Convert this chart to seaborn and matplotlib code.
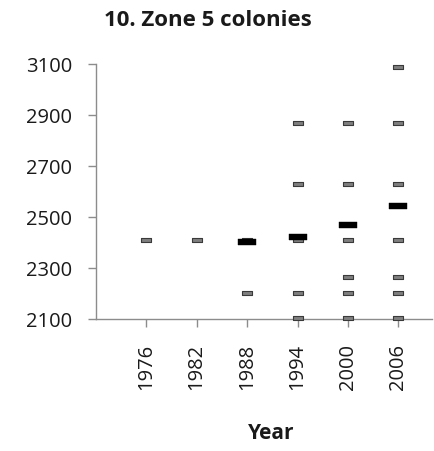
import matplotlib
matplotlib.use("Agg")
import matplotlib.pyplot as plt
import numpy as np
import pandas as pd
import seaborn as sns

# Colony sizes recorded per survey year
years = [1976, 1982, 1988, 1988,
         1994, 1994, 1994, 1994, 1994,
         2000, 2000, 2000, 2000, 2000, 2000,
         2006, 2006, 2006, 2006, 2006, 2006, 2006]
sizes = [2410, 2410, 2410, 2205,
         2870, 2630, 2410, 2205, 2105,
         2870, 2630, 2410, 2265, 2205, 2105,
         3090, 2870, 2630, 2410, 2265, 2205, 2105]

# Average per year (black bars)
avg_years = [1988, 1994, 2000, 2006]
avg_sizes = [2403, 2422, 2470, 2545]

year_ticks = [1976, 1982, 1988, 1994, 2000, 2006]
size_ticks = [2100, 2300, 2500, 2700, 2900, 3100]

colonies = pd.DataFrame({"Year": years, "Size": sizes})
averages = pd.DataFrame({"Year": avg_years, "Size": avg_sizes})

sns.set_theme(style="white")
plt.rcParams["font.family"] = ["Open Sans", "DejaVu Sans"]

fig = plt.figure(figsize=(4.34, 4.51), dpi=100)
ax = fig.add_axes([0.2205, 0.292, 0.775, 0.5654])

# flat dash-like marker shapes
small_dash = [(-1, -0.45), (1, -0.45), (1, 0.45), (-1, 0.45), (-1, -0.45)]
wide_dash = [(-1, -0.27), (1, -0.27), (1, 0.27), (-1, 0.27), (-1, -0.27)]

sns.scatterplot(data=colonies, x="Year", y="Size", ax=ax, marker=small_dash,
                s=48, color="#7f7f7f", edgecolor="#3a3a3a", linewidth=0.8,
                zorder=3, clip_on=False, legend=False)
sns.scatterplot(data=averages, x="Year", y="Size", ax=ax, marker=wide_dash,
                s=180, color="black", edgecolor="black", linewidth=0.3,
                zorder=4, clip_on=False, legend=False)

ax.set_xlim(1970, 2010)
ax.set_ylim(2100, 3100)
ax.set_xticks(year_ticks)
ax.set_xticklabels([str(y) for y in year_ticks], rotation=90)
ax.set_yticks(size_ticks)

for side in ("top", "right"):
    ax.spines[side].set_visible(False)
for side in ("left", "bottom"):
    ax.spines[side].set_color("#8c8c8c")
    ax.spines[side].set_linewidth(1.0)

ax.tick_params(axis="both", which="major", direction="out", length=6,
               width=1.0, color="#8c8c8c", labelsize=14.5, labelcolor="#1a1a1a")
ax.tick_params(axis="y", pad=11, left=True)
ax.tick_params(axis="x", pad=12, bottom=True)

ax.set_ylabel("")
ax.set_xlabel("Year", fontsize=15, fontweight="bold", color="#1a1a1a", va="center")
ax.xaxis.set_label_coords(0.523, -0.446)

fig.text(0.48, 0.955, "10. Zone 5 colonies", ha="center", va="center",
         fontsize=16, fontweight="bold", color="#1a1a1a")

fig.savefig("out.png", dpi=100, facecolor="white")
